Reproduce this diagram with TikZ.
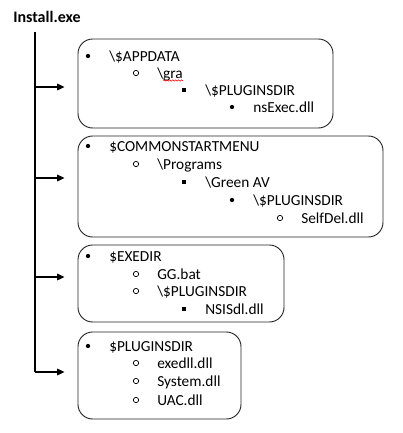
\documentclass[tikz,border=0pt]{standalone}
\usepackage{fontspec}
\setmainfont{Carlito}
\usetikzlibrary{arrows.meta,fit,decorations.pathmorphing}
\tikzset{
  box/.style={draw=black!85, line width=0.7pt, rounded corners=11pt, inner sep=0pt},
  entry/.style={anchor=base west, inner sep=0pt, font=\fontsize{11.5}{13}\selectfont},
  dotmark/.style={circle, fill, inner sep=0pt, minimum size=3.2pt},
  ringmark/.style={circle, draw, line width=0.55pt, inner sep=0pt, minimum size=4pt},
  boxmark/.style={rectangle, fill, inner sep=0pt, minimum size=2.8pt},
  feed/.style={-{Triangle[length=5.5pt,width=5pt]}, line width=0.8pt, shorten >=9.75pt},
  squiggle/.style={red, line width=0.4pt, decorate, decoration={snake, amplitude=0.5pt, segment length=2.2pt}},
}
\begin{document}
\begin{tikzpicture}[x=0.75pt, y=-0.75pt]
    \useasboundingbox (0,0) rectangle (403,433);
    \node[entry, font=\bfseries\fontsize{12}{14}\selectfont] (title) at (13,22.5) {Install.exe};

    % Tronco
    \coordinate (top) at (35,32);
    \coordinate (t1) at (35,87);
    \coordinate (t2) at (35,178);
    \coordinate (t3) at (35,277);
    \coordinate (t4) at (35,372);
    \draw[line width=0.9pt] (top) -- (t4);

    % Caja 1
    \node[box, fit={(78,39) (333,128)}] (appdata) {};
    \foreach \y/\lv/\sym/\txt [count=\i] in {
        61/0/dotmark/{\textbackslash\$APPDATA},
        78/1/ringmark/{\textbackslash gra},
        95/2/boxmark/{\textbackslash\$PLUGINSDIR},
        112/3/dotmark/{nsExec.dll}
        } {
        \node[\sym] (appdata-m\i) at (88+48*\lv, \y-5) {};
        \node[entry] (appdata-t\i) at (109+48*\lv, \y) {\txt};
    }
    \draw[squiggle] (163,80.5) -- (183,80.5);
    \draw[feed] (t1) -- (t1 -| appdata.west);

    % Caja 2
    \node[box, fit={(78,136) (383,237)}] (startmenu) {};
    \foreach \y/\lv/\sym/\txt [count=\i] in {
        151/0/dotmark/{\$COMMONSTARTMENU},
        169/1/ringmark/{\textbackslash Programs},
        187/2/boxmark/{\textbackslash Green AV},
        205/3/dotmark/{\textbackslash\$PLUGINSDIR},
        223/4/ringmark/{SelfDel.dll}
        } {
        \node[\sym] (startmenu-m\i) at (88+48*\lv, \y-5) {};
        \node[entry] (startmenu-t\i) at (109+48*\lv, \y) {\txt};
    }
    \draw[feed] (t2) -- (t2 -| startmenu.west);

    % Caja 3
    \node[box, fit={(78,245) (284,322)}] (exedir) {};
    \foreach \y/\lv/\sym/\txt [count=\i] in {
        261/0/dotmark/{\$EXEDIR},
        279/1/ringmark/{GG.bat},
        296/1/ringmark/{\textbackslash\$PLUGINSDIR},
        314/2/boxmark/{NSISdl.dll}
        } {
        \node[\sym] (exedir-m\i) at (88+48*\lv, \y-5) {};
        \node[entry] (exedir-t\i) at (109+48*\lv, \y) {\txt};
    }
    \draw[feed] (t3) -- (t3 -| exedir.west);

    % Caja 4
    \node[box, fit={(78,332) (241,419)}] (plugins) {};
    \foreach \y/\lv/\sym/\txt [count=\i] in {
        351/0/dotmark/{\$PLUGINSDIR},
        368/1/ringmark/{exedll.dll},
        386/1/ringmark/{System.dll},
        405/1/ringmark/{UAC.dll}
        } {
        \node[\sym] (plugins-m\i) at (88+48*\lv, \y-5) {};
        \node[entry] (plugins-t\i) at (109+48*\lv, \y) {\txt};
    }
    \draw[feed] (t4) -- (t4 -| plugins.west);
\end{tikzpicture}
\end{document}
